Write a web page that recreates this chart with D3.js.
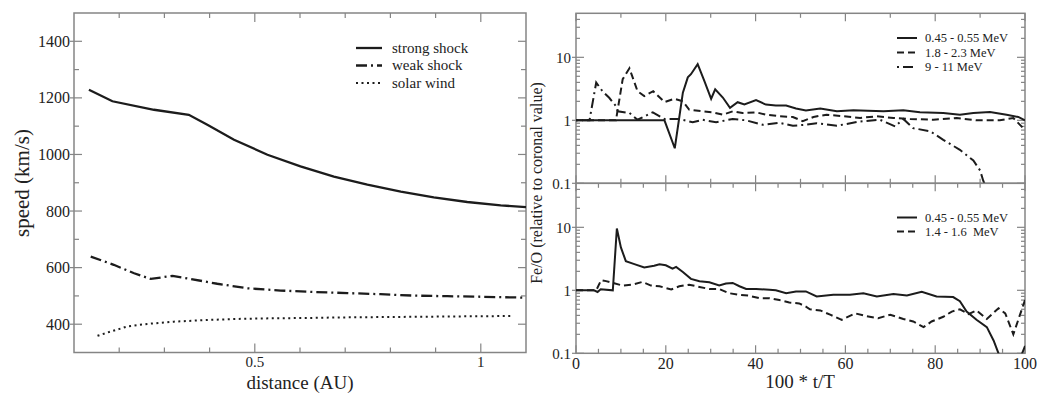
<!DOCTYPE html>
<html><head><meta charset="utf-8">
<script src="https://cdn.jsdelivr.net/npm/d3@7"></script>
<style>
body{margin:0;background:#fff}
text{font-family:"Liberation Serif","DejaVu Serif",serif;fill:#222}
</style>
</head><body>
<svg id="c" width="1039" height="393"></svg>
<script>
// ---------- Left panel data: speed (km/s) vs distance (AU) ----------
const strongShock = [[0.133,1229],[0.185,1188],[0.277,1158],[0.354,1140],[0.395,1105],[0.454,1052],[0.528,999],[0.601,958],[0.675,922],[0.749,893],[0.823,869],[0.896,848],[0.970,832],[1.044,820],[1.10,814]];
const weakShock = [[0.137,639],[0.188,610],[0.233,580],[0.27,560],[0.318,571],[0.358,560],[0.417,543],[0.483,527],[0.557,519],[0.631,514],[0.705,510],[0.778,506],[0.852,501],[0.926,499],[1.0,497],[1.096,494]];
const solarWind = [[0.152,359],[0.181,374],[0.218,392],[0.262,401],[0.321,409],[0.395,415],[0.469,419],[0.542,421],[0.616,422],[0.69,424],[0.764,425],[0.837,426],[0.911,427],[0.985,428],[1.066,429]];
const leftLegend = ["strong shock","weak shock","solar wind"];
const leftXTicks = [0.5,1];
const leftYTicks = [400,600,800,1000,1200,1400];

// ---------- Right top panel: Fe/O vs 100*t/T ----------
const topLow = [[0,1],[19.7,1],[22.0,0.36],[23.8,2.75],[24.9,4.8],[25.6,5.4],[27.1,7.8],[28.6,4.2],[30.1,2.2],[31.0,3.1],[32.7,2.3],[34.3,1.58],[36.0,1.94],[37.5,1.78],[40.1,2.09],[42.3,1.78],[44.5,1.72],[46.8,1.72],[49.0,1.54],[51.2,1.43],[54.4,1.54],[58.1,1.39],[61.8,1.45],[65,1.42],[68.5,1.39],[72.9,1.45],[76.6,1.34],[81.8,1.31],[85.5,1.23],[88.5,1.31],[92.2,1.36],[95.9,1.23],[98.5,1.13],[100,1.0]];
const topMid = [[0,1],[8.9,1],[10.4,4.5],[11.9,6.7],[13.7,2.9],[15.2,2.43],[17.2,2.9],[19.7,1.95],[21.9,2.2],[23.8,2.0],[25.2,1.48],[28.2,1.39],[30.4,1.34],[32.7,1.23],[34.9,1.39],[37.1,1.31],[40.1,1.34],[42.3,1.23],[45.3,1.16],[48.3,1.13],[50.5,0.97],[52.9,1.13],[55.8,1.23],[59.6,1.16],[63.3,1.09],[67,1.16],[70.7,1.09],[74.4,1.05],[79.6,1.02],[84.8,1.09],[89.2,1.0],[94.4,1.0],[97.4,1.09],[100,0.7]];
const topHigh = [[0,1],[3.0,1],[4.5,3.97],[5.9,2.9],[7.4,2.28],[8.9,1.68],[9.3,1.39],[11.9,1.31],[13.7,1.02],[17.1,1.34],[19.7,1.05],[23,1.05],[26,0.93],[28.2,1.02],[31.2,0.93],[34.9,1.05],[37.9,1.0],[41.6,0.85],[45.3,0.91],[48.3,0.82],[51.2,0.85],[53.6,0.9],[58.1,0.82],[63.3,0.96],[67.7,1.02],[71.1,0.8],[72.9,1.05],[75.1,0.75],[78.9,0.67],[81.8,0.49],[85.5,0.34],[88.5,0.23],[90,0.16],[90.7,0.11],[91.5,0.08]];
const topLegend = ["0.45 - 0.55 MeV","1.8 - 2.3 MeV","9 - 11 MeV"];

// ---------- Right bottom panel ----------
const botLow = [[0,1],[4,1],[4.8,0.94],[5.5,1.04],[8.2,1],[9.1,9.6],[10.0,4.8],[11.1,2.9],[13.0,2.6],[15.2,2.3],[17.4,2.45],[18.6,2.6],[20,2.5],[21.5,2.2],[22.3,2.35],[23.8,1.95],[25.6,1.52],[27.5,1.39],[29.7,1.34],[31.9,1.19],[33.4,1.28],[34.9,1.31],[36.4,1.16],[37.9,1.05],[40.1,1.05],[43.1,1.02],[44.5,1.0],[46.8,0.9],[49,0.96],[51.2,0.96],[53.6,0.8],[57.3,0.85],[61,0.85],[64,0.9],[67,0.8],[70.7,0.87],[73.7,0.83],[77,0.95],[80.3,0.8],[84,0.78],[85.5,0.67],[87,0.46],[89.2,0.34],[91.5,0.26],[93,0.16],[94.1,0.1],[95,0.07],[98.5,0.07],[100,0.13]];
const botMid = [[0,1],[4.5,1],[5.6,1.45],[6.7,1.4],[8.2,1.31],[10.4,1.19],[12.6,1.23],[14.8,1.36],[16.7,1.19],[18.6,1.16],[21.2,1.03],[23,1.16],[25.2,1.23],[27.5,1.13],[29.7,1.05],[31.9,1.05],[34.1,0.9],[36.4,0.85],[38.6,0.82],[40.8,0.75],[43.1,0.75],[45.3,0.7],[47.5,0.64],[49.7,0.62],[51.2,0.55],[52.1,0.5],[54.4,0.48],[56.6,0.41],[59.2,0.34],[62.2,0.43],[64.7,0.39],[67.3,0.36],[70,0.41],[72.9,0.35],[75.1,0.32],[77.4,0.26],[79.2,0.32],[81.8,0.38],[83.7,0.46],[85.5,0.5],[87.4,0.42],[89.2,0.48],[91.5,0.35],[94.1,0.52],[95.6,0.43],[97.4,0.2],[100,0.7]];
const botLegend = ["0.45 - 0.55 MeV","1.4 - 1.6  MeV"];
const rightXTicks = [0,20,40,60,80,100];
const rightYTicks = [0.1,1,10];

const svg = d3.select("#c");
const LINE = "#1c1c1c", FRAME = "#858585";

// ================= LEFT PANEL =================
const xL = d3.scaleLinear().domain([0.1,1.1]).range([74,526]);
const yL = d3.scaleLinear().domain([300,1500]).range([352.5,13]);

function ticksLin(scale, vals, orient, pos, len, cross) {
  const g = svg.append("g").attr("stroke",FRAME).attr("stroke-width",1.2);
  vals.forEach(v => {
    const p = scale(v);
    if (orient==="bottom") g.append("line").attr("x1",p).attr("x2",p).attr("y1",pos).attr("y2",pos-len);
    if (orient==="top") g.append("line").attr("x1",p).attr("x2",p).attr("y1",pos).attr("y2",pos+len);
    if (orient==="left") g.append("line").attr("y1",p).attr("y2",p).attr("x1",pos-(cross||0)).attr("x2",pos+len);
    if (orient==="right") g.append("line").attr("y1",p).attr("y2",p).attr("x1",pos).attr("x2",pos-len);
  });
}
const lxMinor = d3.range(2,11).map(d=>d/10).filter(d=>!leftXTicks.includes(d));
ticksLin(xL, lxMinor, "bottom", 352.5, 5);
ticksLin(xL, leftXTicks, "bottom", 352.5, 9);
ticksLin(xL, lxMinor, "top", 13, 5);
ticksLin(xL, leftXTicks, "top", 13, 9);
const lyMinor = d3.range(400,1500,100).filter(d=>!leftYTicks.includes(d));
ticksLin(yL, lyMinor, "left", 74, 5);
ticksLin(yL, leftYTicks, "left", 74, 8, 4);
ticksLin(yL, lyMinor, "right", 526, 5);
ticksLin(yL, leftYTicks, "right", 526, 8);

svg.append("rect").attr("x",74).attr("y",13).attr("width",452).attr("height",339.5)
  .attr("fill","none").attr("stroke",FRAME).attr("stroke-width",1.5);

leftYTicks.forEach(v => svg.append("text").attr("x",70).attr("y",yL(v)).attr("dy","0.35em")
  .attr("text-anchor","end").attr("font-size",16).text(v));
leftXTicks.forEach(v => svg.append("text").attr("x",xL(v)).attr("y",367)
  .attr("text-anchor","middle").attr("font-size",15).text(v));
svg.append("text").attr("x",300).attr("y",389).attr("text-anchor","middle").attr("font-size",19).text("distance (AU)");
svg.append("text").attr("transform","translate(29,183) rotate(-90)").attr("text-anchor","middle").attr("font-size",21).text("speed (km/s)");

const lineL = d3.line().x(d=>xL(d[0])).y(d=>yL(d[1]));
const leftStyles = [
  {data:strongShock, dash:null, w:2.3},
  {data:weakShock, dash:"11,4,2,4", w:2.3},
  {data:solarWind, dash:"2,3.5", w:2}
];
leftStyles.forEach(s => svg.append("path").attr("d",lineL(s.data)).attr("fill","none")
  .attr("stroke",LINE).attr("stroke-width",s.w).attr("stroke-dasharray",s.dash));
leftLegend.forEach((t,i) => {
  const y = 48 + i*17.5;
  svg.append("line").attr("x1",356).attr("x2",382).attr("y1",y).attr("y2",y)
    .attr("stroke",LINE).attr("stroke-width",leftStyles[i].w).attr("stroke-dasharray",leftStyles[i].dash);
  svg.append("text").attr("x",392).attr("y",y).attr("dy","0.32em").attr("font-size",15).text(t);
});

// ================= RIGHT PANELS =================
const xR = d3.scaleLinear().domain([0,100]).range([576,1025]);
const panels = [
  {y0:13.3, y1:183.3, series:[topLow,topMid,topHigh], legend:topLegend,
   dashes:[null,"7,4","2,4,10,4"], legY:38, legStep:14.5, id:"cpT", xMinorStep:10},
  {y0:183.3, y1:353.3, series:[botLow,botMid], legend:botLegend,
   dashes:[null,"7,4"], legY:217.5, legStep:14, id:"cpB", xMinorStep:5}
];
const logMinor = [];
[0.1,1,10].forEach(b => d3.range(2,10).forEach(k => { if (b*k < 50) logMinor.push(b*k); }));

panels.forEach((P,pi) => {
  const y = d3.scaleLog().domain([0.1,50]).range([P.y1,P.y0]);
  const g = svg.append("g").attr("stroke",FRAME).attr("stroke-width",1.2);
  logMinor.forEach(v => {
    g.append("line").attr("x1",576).attr("x2",580).attr("y1",y(v)).attr("y2",y(v));
    g.append("line").attr("x1",1025).attr("x2",1021).attr("y1",y(v)).attr("y2",y(v));
  });
  rightYTicks.forEach(v => {
    g.append("line").attr("x1",572).attr("x2",584).attr("y1",y(v)).attr("y2",y(v));
    g.append("line").attr("x1",1025).attr("x2",1017).attr("y1",y(v)).attr("y2",y(v));
    svg.append("text").attr("x",571).attr("y",y(v)).attr("dy","0.35em").attr("text-anchor","end")
      .attr("font-size",15).text(v);
  });
  const minorX = d3.range(0,101,P.xMinorStep).filter(d=>!rightXTicks.includes(d));
  minorX.forEach(v => {
    g.append("line").attr("x1",xR(v)).attr("x2",xR(v)).attr("y1",P.y1).attr("y2",P.y1-4.5);
    g.append("line").attr("x1",xR(v)).attr("x2",xR(v)).attr("y1",P.y0).attr("y2",P.y0+4.5);
  });
  rightXTicks.forEach(v => {
    g.append("line").attr("x1",xR(v)).attr("x2",xR(v)).attr("y1",P.y1).attr("y2",P.y1-8);
    g.append("line").attr("x1",xR(v)).attr("x2",xR(v)).attr("y1",P.y0).attr("y2",P.y0+8);
  });
  svg.append("rect").attr("x",576).attr("y",P.y0).attr("width",449).attr("height",P.y1-P.y0)
    .attr("fill","none").attr("stroke",FRAME).attr("stroke-width",1.5);
  svg.append("clipPath").attr("id",P.id).append("rect").attr("x",576).attr("y",P.y0)
    .attr("width",449).attr("height",P.y1-P.y0);
  const line = d3.line().x(d=>xR(d[0])).y(d=>y(Math.max(d[1],0.01)));
  P.series.forEach((s,i) => svg.append("path").attr("d",line(s)).attr("clip-path",`url(#${P.id})`)
    .attr("fill","none").attr("stroke",LINE).attr("stroke-width",2)
    .attr("stroke-dasharray",P.dashes[i]));
  P.legend.forEach((t,i) => {
    const ly = P.legY + i*P.legStep;
    svg.append("line").attr("x1",897).attr("x2",917).attr("y1",ly).attr("y2",ly)
      .attr("stroke",LINE).attr("stroke-width",2).attr("stroke-dasharray",P.dashes[i]);
    svg.append("text").attr("x",925).attr("y",ly).attr("dy","0.32em").attr("font-size",12.5)
      .style("white-space","pre").text(t);
  });
});
rightXTicks.forEach(v => svg.append("text").attr("x",xR(v)).attr("y",369)
  .attr("text-anchor","middle").attr("font-size",16).text(v));
svg.append("text").attr("x",800).attr("y",388).attr("text-anchor","middle").attr("font-size",19).text("100 * t/T");
svg.append("text").attr("transform","translate(542,183) rotate(-90)").attr("text-anchor","middle")
  .attr("font-size",16).text("Fe/O (relative to coronal value)");
</script>
</body></html>
